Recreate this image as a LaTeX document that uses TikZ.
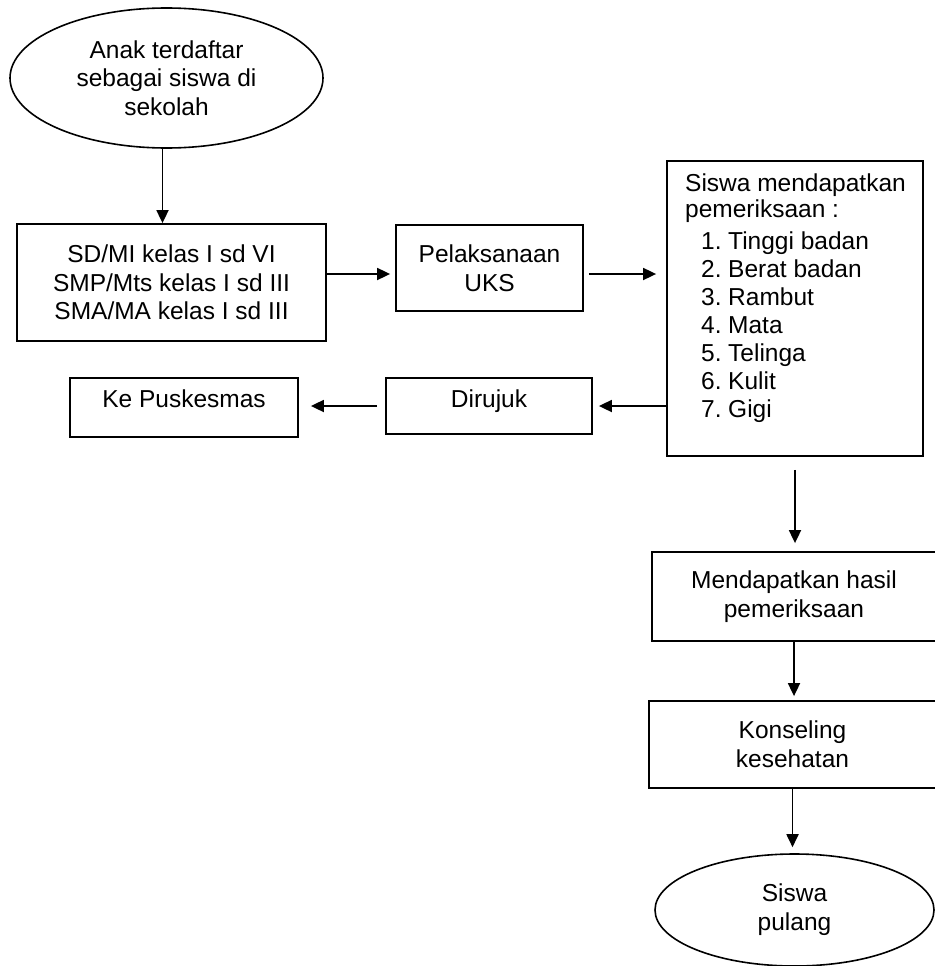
\documentclass[tikz,border=0pt]{standalone}
\usepackage{fontspec}
\setmainfont{Liberation Sans}
\usetikzlibrary{arrows.meta,shapes.geometric,positioning}
\newcommand{\butir}[2]{\hspace*{16pt}\makebox[27pt][l]{#1}#2}

\begin{document}
\begin{tikzpicture}[x=1pt,y=-1pt,
  font=\fontsize{24.5}{28.7}\selectfont,
  kotak/.style={draw,line width=1.8pt,rectangle,inner sep=0pt,align=center},
  elips/.style={draw,line width=1.6pt,ellipse,inner sep=0pt,align=center},
  panah/.style={line width=1.8pt,-{Triangle[length=13pt,width=12pt]}}]
\useasboundingbox (0,0) rectangle (934,966);
% kolom kiri
\node[elips,minimum width=313,minimum height=140] (daftar) at (166.5,78) {Anak terdaftar\\sebagai siswa di\\sekolah};
\node[kotak,minimum width=309,minimum height=117] (kelas) at (171.5,282.5) {SD/MI kelas I sd VI\\SMP/Mts kelas I sd III\\SMA/MA kelas I sd III};
\node[kotak,minimum width=228,minimum height=59,text depth=18pt] (puskesmas) at (184,407.5) {Ke Puskesmas};
% kolom tengah
\node[kotak,minimum width=187,minimum height=86] (uks) at (489.5,268) {Pelaksanaan\\UKS};
\node[kotak,minimum width=206,minimum height=56,text depth=14pt] (rujuk) at (489,406) {Dirujuk};
% kolom kanan
\node[kotak,minimum width=256,minimum height=295] (periksa) at (795,308.5) {};
\node[anchor=north west,inner sep=0pt,align=left,font=\fontsize{24.5}{28}\selectfont] (periksa-t) at (685,174)
  {Siswa mendapatkan\\[-2pt]pemeriksaan :\\[4pt]\butir{1.}{Tinggi badan}\\\butir{2.}{Berat badan}\\\butir{3.}{Rambut}\\\butir{4.}{Mata}\\\butir{5.}{Telinga}\\\butir{6.}{Kulit}\\\butir{7.}{Gigi}};
\node[kotak,minimum width=284,minimum height=89] (hasil) at (794,596.5) {Mendapatkan hasil\\pemeriksaan};
\node[kotak,minimum width=287,minimum height=87] (konseling) at (792.5,744.5) {Konseling\\kesehatan};
\node[elips,minimum width=279,minimum height=112] (pulang) at (794.5,910) {Siswa\\pulang};
% panah
\draw[panah] ([xshift=-4]daftar.south) -- ([xshift=-4]daftar.south |- kelas.north);
\draw[panah,shorten >=5] ([yshift=8.5]kelas.east) -- ([yshift=-6]uks.west);
\draw[panah,shorten <=5,shorten >=10] ([yshift=-6]uks.east) -- ([yshift=-6]uks.east -| periksa.west);
\draw[panah,shorten >=6] (rujuk.east -| periksa.west) -- (rujuk.east);
\draw[panah,shorten <=8,shorten >=12] (rujuk.west) -- (rujuk.west -| puskesmas.east);
\draw[panah,shorten <=13,shorten >=8] (periksa.south) -- (periksa.south |- hasil.north);
\draw[panah,shorten >=4] (hasil.south) -- (hasil.south |- konseling.north);
\draw[panah,shorten >=6] (konseling.south) -- (konseling.south |- pulang.north);
\end{tikzpicture}
\end{document}
